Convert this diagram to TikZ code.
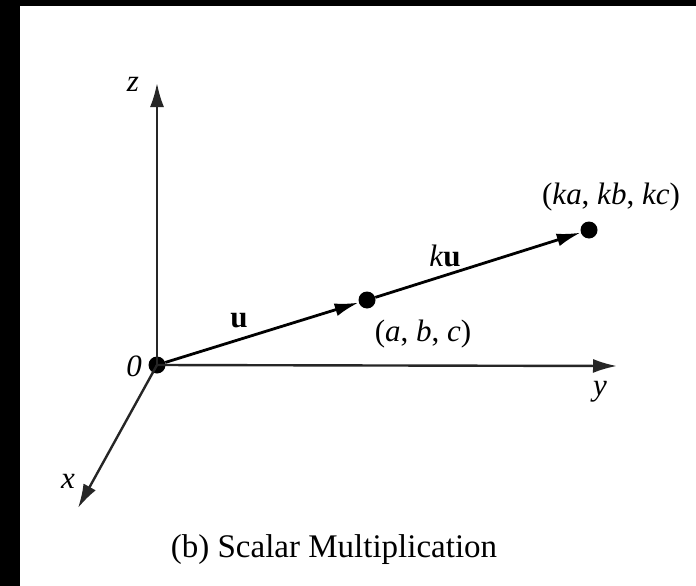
\documentclass[tikz,border=0pt]{standalone}
\usepackage{fontspec}
\setmainfont{Liberation Serif}
\usetikzlibrary{arrows.meta}
\begin{document}
\begin{tikzpicture}[x=1pt,y=-1pt,
  dot/.style={circle,fill=black,inner sep=0pt,minimum size=17pt},
  axis/.style={line width=2.4pt,draw=black!85,-{Latex[length=24pt,width=14pt]}},
  vec/.style={line width=2.8pt,-{Latex[length=24pt,width=13pt]}},
  lab/.style={font=\fontsize{31}{34}\selectfont,inner sep=0pt},
  captext/.style={font=\fontsize{33}{36}\selectfont,inner sep=0pt}]
\fill[black] (0,0) rectangle (696,586);
\fill[white] (20,6) rectangle (696,586);
\useasboundingbox (0,0) rectangle (696,586);
% points
\node[dot] (O) at (157,365) {};
\node[dot] (A) at (367,300) {};
\node[dot] (B) at (589,230) {};
\coordinate (Z) at (157,83);
\coordinate (Y) at (617,366);
\coordinate (X) at (78,508);
% axes
\draw[axis] (O.center) -- (Z);
\draw[axis] (O.center) -- (Y);
\draw[axis] (O.center) -- (X);
% vectors
\draw[vec] (O) -- (A);
\draw[vec] (A) -- (B);
% labels
\node[lab] (zl) at (133,84) {\textit{z}};
\node[lab] (yl) at (600,392) {\textit{y}};
\node[lab] (xl) at (68,481) {\textit{x}};
\node[lab] (ol) at (134,366) {\textit{0}};
\node[lab] (ul) at (239,321) {\textbf{u}};
\node[lab] (kul) at (445,256) {\textit{k}\textbf{u}};
\node[lab] (al) at (423,334) {(\textit{a}, \textit{b}, \textit{c})};
\node[lab] (bl) at (611,197) {(\textit{ka}, \textit{kb}, \textit{kc})};
\node[captext] (caption) at (334,550) {(b) Scalar Multiplication};
\end{tikzpicture}
\end{document}
